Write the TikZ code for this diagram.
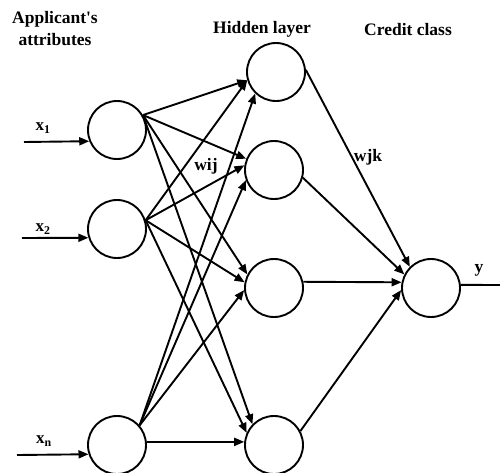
\documentclass[tikz,border=0pt]{standalone}
\usepackage{fontspec}
\setmainfont{Liberation Serif}
% plain family: keeps the straight apostrophe
\newfontfamily\plainserif{Liberation Serif}
\usetikzlibrary{arrows.meta}
\begin{document}
\begin{tikzpicture}[x=1pt,y=-1pt,
  neuron/.style={circle,draw,line width=1.9pt,minimum size=58pt,inner sep=0pt},
  link/.style={line width=1.9pt,-{Triangle[length=10pt,width=8pt]}},
  title/.style={font=\plainserif\fontsize{17.5}{22}\selectfont\bfseries,align=center},
  wlabel/.style={font=\fontsize{17.5}{20}\selectfont\bfseries},
  xlabel/.style={font=\fontsize{17}{18}\selectfont\bfseries}]
\useasboundingbox (0,0) rectangle (500,472);

% input layer
\node[neuron] (i1) at (117,130) {};
\node[neuron] (i2) at (117,229) {};
\node[neuron] (i3) at (117,445) {};
% hidden layer
\node[neuron] (h1) at (276,72) {};
\node[neuron] (h2) at (274,170) {};
\node[neuron] (h3) at (274,288) {};
\node[neuron] (h4) at (274,445) {};
% output
\node[neuron] (o) at (431,288) {};

% headings
\node[title] (tA) at (55,29) {Applicant's\\attributes};
\node[title] (tH) at (262,29) {Hidden layer};
\node[title] (tC) at (408,30) {Credit class};

% inputs
\coordinate (s1) at (24,142);
\coordinate (s2) at (22,238);
\coordinate (s3) at (17,455);
\draw[link] (s1) -- (i1.202);
\draw[link] (s2) -- (i2.197);
\draw[link] (s3) -- (i3.198);
\node[xlabel] (x1) at (43,128) {x\textsubscript{1}};
\node[xlabel] (x2) at (43,229) {x\textsubscript{2}};
\node[xlabel] (xn) at (44,441) {x\textsubscript{n}};

% input -> hidden
\draw[link] (i1.30) -- (h1.196);
\draw[link] (i1.30) -- (h2.158);
\draw[link] (i1.30) -- (h3.153);
\draw[link] (i1.30) -- (h4.136);
\draw[link] (i2.17) -- (h1.196);
\draw[link] (i2.17) -- (h2.171);
\draw[link] (i2.17) -- (h3.169);
\draw[link] (i2.17) -- (h4.156);
\draw[link] (i3.41) -- (h1.226);
\draw[link] (i3.41) -- (h2.200);
\draw[link] (i3.41) -- (h3.184);
\draw[link] (i3.6) -- (h4.174);

% hidden -> output
\draw[link] (h1.4) -- (o.135);
\draw[link] (h2.345) -- (o.153);
\draw[link] (h3.12) -- (o.169);
\draw[link] (h4.28) -- (o.184);

% output line
\coordinate (yend) at (500,285);
\draw[line width=1.9pt] (o.6) -- (yend);
\node[wlabel] (ylab) at (479,270) {y};

% weight labels
\node[wlabel,fill=white,inner sep=1pt] (wij) at (206,166) {wij};
\node[wlabel] (wjk) at (368,157) {wjk};
\end{tikzpicture}
\end{document}
